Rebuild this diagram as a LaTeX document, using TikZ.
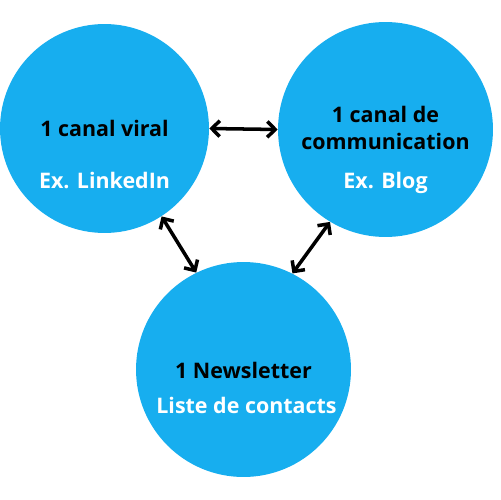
\documentclass[tikz,border=0pt]{standalone}
\usepackage{fontspec}
\setmainfont{Open Sans}
\usetikzlibrary{arrows.meta}
\definecolor{cbulle}{RGB}{23,174,239}

\begin{document}
\begin{tikzpicture}[x=0.02cm, y=-0.02cm,
    bulle/.style={circle, fill=cbulle, inner sep=0pt},
    titre/.style={font=\fontsize{12.2}{14}\selectfont\bfseries, anchor=base},
    exemple/.style={font=\fontsize{12.2}{14}\selectfont\bfseries, white, anchor=base},
    lien/.style={{Straight Barb[length=4.5pt, width=9pt]}-{Straight Barb[length=4.5pt, width=9pt]}, line width=2pt}]

  \useasboundingbox (0,0) rectangle (500,500);

  % --- les trois bulles ---
  \node[bulle, minimum size=4.18cm] (viral) at (104.5,128.5) {};
  \node[bulle, minimum size=4.3cm]  (com)   at (385.5,129.5) {};
  \node[bulle, minimum size=4.3cm]  (news)  at (243.5,369.5) {};

  % --- textes ---
  \node[titre]   (tviral) at (104.5,136) {1 canal viral};
  \node[exemple] (eviral) at (104.5,188) {Ex. LinkedIn};
  \node[titre]   (tcom1)  at (385.5,122) {1 canal de};
  \node[titre]   (tcom2)  at (385.5,150) {communication};
  \node[exemple] (ecom)   at (385.5,188) {Ex. Blog};
  \node[titre]   (tnews)  at (243.5,378) {1 Newsletter};
  \node[exemple] (enews)  at (246.5,413) {Liste de contacts};

  % --- liens ---
  \draw[lien] (viral.0) -- (com.180);
  \draw[lien] (viral.-57) -- (news.116);
  \draw[lien] (com.-121) -- (news.63);
\end{tikzpicture}
\end{document}
